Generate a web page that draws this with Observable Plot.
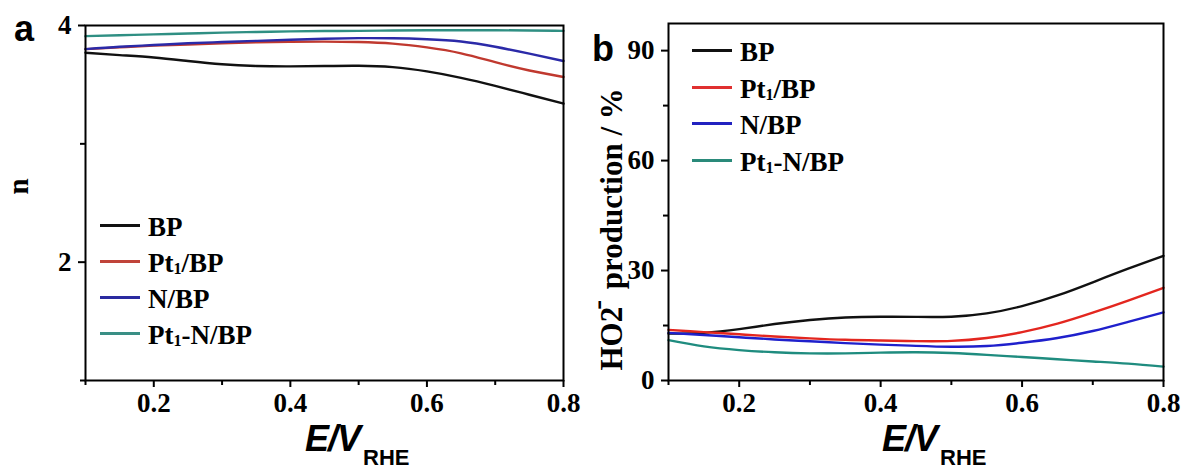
<!DOCTYPE html>
<html>
<head>
<meta charset="utf-8">
<script src="https://cdn.jsdelivr.net/npm/d3@7"></script>
<script src="https://cdn.jsdelivr.net/npm/@observablehq/plot@0.6"></script>
<style>
  html, body { margin: 0; padding: 0; background: #fff; }
  #wrap { position: relative; width: 1186px; height: 470px; overflow: hidden; background: #fff; }
  #wrap svg { position: absolute; top: 0; }
  .t { position: absolute; white-space: nowrap; line-height: 1; color: #000; }
  .serif { font-family: "Liberation Serif", "Times New Roman", serif; font-weight: bold; }
  .sans { font-family: "Liberation Sans", Arial, sans-serif; font-weight: bold; }
  .leg-line { position: absolute; height: 0; border-top: 3px solid #000; }
  sub.s1 { font-size: 60%; vertical-align: -0.15em; }
</style>
</head>
<body>
<div id="wrap"></div>
<script>
// ---------- data ----------
const series = ["BP", "Pt1/BP", "N/BP", "Pt1-N/BP"];
const legendHtml = ["BP", "Pt<sub class='s1'>1</sub>/BP", "N/BP", "Pt<sub class='s1'>1</sub>-N/BP"];
const E = [0.10, 0.15, 0.20, 0.25, 0.30, 0.35, 0.40, 0.45, 0.50, 0.55, 0.60, 0.65, 0.70, 0.75, 0.80];

// panel a: electron transfer number n
const nBP     = [3.77, 3.75, 3.73, 3.70, 3.672, 3.658, 3.655, 3.658, 3.66, 3.648, 3.612, 3.558, 3.49, 3.415, 3.34];
const nPt1BP  = [3.80, 3.815, 3.83, 3.84, 3.85, 3.858, 3.862, 3.864, 3.86, 3.847, 3.815, 3.765, 3.69, 3.62, 3.565];
const nNBP    = [3.80, 3.82, 3.835, 3.85, 3.86, 3.87, 3.88, 3.888, 3.893, 3.892, 3.884, 3.865, 3.82, 3.762, 3.70];
const nPt1NBP = [3.91, 3.917, 3.925, 3.932, 3.94, 3.945, 3.95, 3.953, 3.955, 3.958, 3.96, 3.96, 3.96, 3.958, 3.955];

// panel b: HO2- production / %
const hBP     = [12.8, 13.0, 14.0, 15.4, 16.5, 17.2, 17.4, 17.35, 17.4, 18.3, 20.3, 23.2, 26.8, 30.5, 34.0];
const hPt1BP  = [13.8, 13.2, 12.6, 12.0, 11.5, 11.1, 10.9, 10.75, 10.8, 11.6, 13.2, 15.5, 18.5, 21.8, 25.3];
const hNBP    = [13.0, 12.4, 11.8, 11.2, 10.7, 10.2, 9.8, 9.45, 9.2, 9.4, 10.3, 11.6, 13.5, 16.0, 18.6];
const hPt1NBP = [11.0, 9.3, 8.3, 7.7, 7.4, 7.4, 7.6, 7.7, 7.5, 7.0, 6.4, 5.8, 5.2, 4.6, 3.8];

const colorsA = ["#111111", "#c0392f", "#2b2aa8", "#2f8f83"];
const colorsB = ["#111111", "#e3261f", "#1f20cc", "#1f8c7f"];

const xTicks = [0.2, 0.4, 0.6, 0.8];
const xMinor = [0.1, 0.3, 0.5, 0.7];
const yTicksA = [2, 4];
const yMinorA = [1, 3];
const yTicksB = [0, 30, 60, 90];
const yMinorB = [15, 45, 75];

function rows(arrs) {
  const out = [];
  arrs.forEach((a, k) => a.forEach((v, i) => out.push({E: E[i], v, s: series[k]})));
  return out;
}
const dataA = rows([nBP, nPt1BP, nNBP, nPt1NBP]);
const dataB = rows([hBP, hPt1BP, hNBP, hPt1NBP]);

const baseStyle = {fontFamily: "'Liberation Serif', 'Times New Roman', serif", fontWeight: "bold", fontSize: "27px", background: "white", color: "black", overflow: "visible"};

function panel({width, ml, mr, mt, mb, data, ydomain, yT, yM, colors}) {
  return Plot.plot({
    width, height: 470,
    marginLeft: ml, marginRight: mr, marginTop: mt, marginBottom: mb,
    style: baseStyle,
    x: {domain: [0.1, 0.8]},
    y: {domain: ydomain},
    color: {domain: series, range: colors},
    marks: [
      Plot.line(data, {x: "E", y: "v", z: "s", stroke: "s", strokeWidth: 2.4, curve: "natural"}),
      Plot.frame({stroke: "black", strokeWidth: 2}),
      Plot.axisX({ticks: xTicks, tickSize: 7, tickPadding: 5, strokeWidth: 2, tickFormat: d => d.toFixed(1), label: null}),
      Plot.axisX({ticks: xMinor, tickSize: 5, strokeWidth: 2, tickFormat: () => "", label: null}),
      Plot.axisY({ticks: yT, tickSize: 7, tickPadding: 7, strokeWidth: 2, tickFormat: d => String(d), label: null}),
      Plot.axisY({ticks: yM, tickSize: 5, strokeWidth: 2, tickFormat: () => "", label: null})
    ]
  });
}

const wrap = document.getElementById("wrap");

const svgA = panel({width: 590, ml: 85, mr: 27, mt: 25, mb: 90, data: dataA, ydomain: [1, 4], yT: yTicksA, yM: yMinorA, colors: colorsA});
svgA.style.left = "0px";
wrap.appendChild(svgA);

const svgB = panel({width: 596, ml: 78, mr: 23, mt: 23, mb: 90, data: dataB, ydomain: [0, 97.4], yT: yTicksB, yM: yMinorB, colors: colorsB});
svgB.style.left = "590px";
wrap.appendChild(svgB);

// ---------- text overlays ----------
function addText(html, cls, left, top, size, extra) {
  const d = document.createElement("div");
  d.className = "t " + cls;
  d.innerHTML = html;
  d.style.left = left + "px";
  d.style.top = top + "px";
  d.style.fontSize = size + "px";
  if (extra) Object.assign(d.style, extra);
  wrap.appendChild(d);
  return d;
}

// panel letters
addText("a", "sans", 14, 11, 36);
addText("b", "sans", 592, 31, 36);

// y labels (rotated)
function addRotated(html, cls, cx, cy, size) {
  const d = addText(html, cls, 0, 0, size, {lineHeight: size + "px"});
  const w = d.offsetWidth, h = d.offsetHeight;
  d.style.left = (cx - w / 2) + "px";
  d.style.top = (cy - h / 2) + "px";
  d.style.transform = "rotate(-90deg)";
  d.style.transformOrigin = "50% 50%";
}
addRotated("n", "serif", 18, 186, 29);
addRotated("HO2<sup style='font-size:95%;vertical-align:0.5em;margin-left:-3px;margin-right:3px'>-</sup> production / %", "serif", 604, 229, 31);

// x labels
function xlabel(left) {
  addText("<span style='font-style:italic;letter-spacing:-1px'>E/V</span><span style='font-size:22px;position:relative;top:14px;margin-left:3px'>RHE</span>", "sans", left, 421, 36);
}
xlabel(305);
xlabel(882);

// legends
function legend(x0, ys, colors) {
  ys.forEach((y, i) => {
    const l = document.createElement("div");
    l.className = "leg-line";
    l.style.left = x0 + "px";
    l.style.width = "40px";
    l.style.top = (y - 1.5) + "px";
    l.style.borderTopColor = colors[i];
    wrap.appendChild(l);
    addText(legendHtml[i], "serif", x0 + 48, y - 11.5, 27);
  });
}
legend(100, [225, 261, 297, 333], ["#111", "#c0443a", "#2a2aa0", "#3a8f85"]);
legend(692, [50, 87, 123, 160], ["#111", "#e03030", "#2222c0", "#2a8a7a"]);
</script>
</body>
</html>
